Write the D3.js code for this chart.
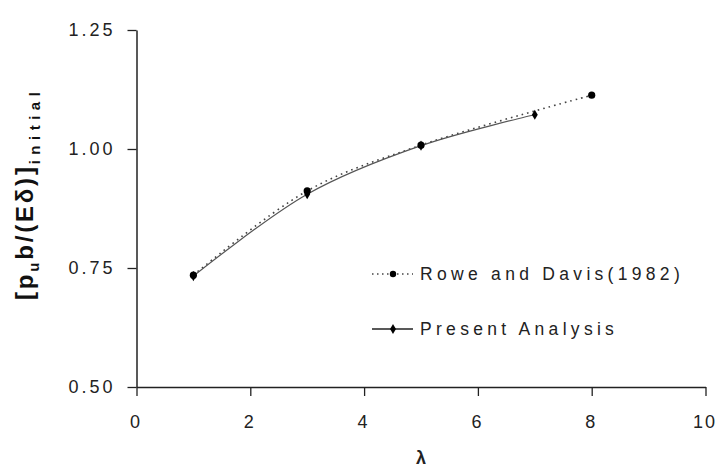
<!DOCTYPE html>
<html>
<head>
<meta charset="utf-8">
<script src="https://cdn.jsdelivr.net/npm/d3@7"></script>
<style>
  body { margin: 0; background: #fff; }
  svg { display: block; }
  .tick text { font-family: Arial, "Liberation Sans", sans-serif; font-size: 18px; fill: #222; letter-spacing: 3px; }
  .legend text { font-family: Arial, "Liberation Sans", sans-serif; font-size: 17.5px; fill: #222; letter-spacing: 4.3px; }
</style>
</head>
<body>
<div id="chart"></div>
<script>
const width = 718, height = 468;
const margin = {top: 30, right: 12.5, bottom: 81, left: 136.5};

// data
const roweX = [1, 3, 5, 8];
const roweY = [0.735, 0.912, 1.008, 1.113];
const presentX = [1, 3, 5, 7];
const presentY = [0.733, 0.905, 1.007, 1.072];
const xTicks = [0, 2, 4, 6, 8, 10];
const yTicks = [0.50, 0.75, 1.00, 1.25];
const seriesNames = ["Rowe and Davis(1982)", "Present Analysis"];

const rowe = roweX.map((d, i) => ({x: d, y: roweY[i]}));
const present = presentX.map((d, i) => ({x: d, y: presentY[i]}));

const svg = d3.select("#chart")
  .append("svg")
    .attr("width", width)
    .attr("height", height)
    .style("background", "#fff");

const x = d3.scaleLinear()
  .domain([0, 10])
  .range([margin.left, width - margin.right]);

const y = d3.scaleLinear()
  .domain([0.5, 1.25])
  .range([height - margin.bottom, margin.top]);

// X axis
const xAxis = svg.append("g")
  .attr("transform", `translate(0, ${height - margin.bottom})`)
  .call(d3.axisBottom(x).tickValues(xTicks).tickSize(9).tickSizeOuter(0).tickPadding(19).tickFormat(d3.format("d")));

// Y axis
const yAxis = svg.append("g")
  .attr("transform", `translate(${margin.left}, 0)`)
  .call(d3.axisLeft(y).tickValues(yTicks).tickSize(9).tickSizeOuter(0).tickPadding(15).tickFormat(d3.format(".2f")));

[xAxis, yAxis].forEach(a => {
  a.select(".domain").attr("stroke", "#222").attr("stroke-width", 1.5);
  a.selectAll(".tick line").attr("stroke", "#222").attr("stroke-width", 1.3);
});
xAxis.selectAll(".tick text").style("letter-spacing", "2px").attr("dx", "-1px");
yAxis.selectAll(".tick text").attr("dx", "3px");

// lines
const line = d3.line()
  .x(d => x(d.x))
  .y(d => y(d.y))
  .curve(d3.curveCatmullRom.alpha(0.5));

svg.append("path")
  .datum(rowe)
  .attr("fill", "none")
  .attr("stroke", "#444")
  .attr("stroke-width", 1.6)
  .attr("stroke-dasharray", "1.6,4")
  .attr("d", line);

svg.append("path")
  .datum(present)
  .attr("fill", "none")
  .attr("stroke", "#555")
  .attr("stroke-width", 1.2)
  .attr("d", line);

// markers
svg.append("g")
  .selectAll("circle")
  .data(rowe)
  .join("circle")
    .attr("cx", d => x(d.x))
    .attr("cy", d => y(d.y))
    .attr("r", 3.6)
    .attr("fill", "#000");

const diamond = d3.symbol().type(d3.symbolDiamond).size(30);
svg.append("g")
  .selectAll("path")
  .data(present)
  .join("path")
    .attr("transform", d => `translate(${x(d.x)}, ${y(d.y)})`)
    .attr("d", diamond)
    .attr("fill", "#000");

// legend
const legend = svg.append("g").attr("class", "legend");
const legendY = [274, 329];

legend.append("line")
  .attr("x1", 372).attr("x2", 413)
  .attr("y1", legendY[0]).attr("y2", legendY[0])
  .attr("stroke", "#444").attr("stroke-width", 1.4)
  .attr("stroke-dasharray", "1.5,3.5");
legend.append("circle")
  .attr("cx", 393).attr("cy", legendY[0]).attr("r", 3.2).attr("fill", "#000");

legend.append("line")
  .attr("x1", 372).attr("x2", 413)
  .attr("y1", legendY[1]).attr("y2", legendY[1])
  .attr("stroke", "#222").attr("stroke-width", 1.3);
legend.append("path")
  .attr("transform", `translate(393, ${legendY[1]})`)
  .attr("d", diamond)
  .attr("fill", "#000");

legend.selectAll("text")
  .data(seriesNames)
  .join("text")
    .attr("x", 420)
    .attr("y", (d, i) => legendY[i])
    .attr("dy", "0.35em")
    .text(d => d);

// X axis label
svg.append("text")
  .attr("x", (margin.left + width - margin.right) / 2)
  .attr("y", 464)
  .attr("text-anchor", "middle")
  .style("font-family", "Arial, 'Liberation Sans', sans-serif")
  .style("font-size", "18px")
  .style("font-weight", "bold")
  .style("fill", "#222")
  .text("λ");

// Y axis label
const ylab = svg.append("text")
  .attr("transform", "rotate(-90)")
  .attr("x", -300)
  .attr("y", 33)
  .style("font-family", "Arial, 'Liberation Sans', sans-serif")
  .style("font-weight", "bold")
  .style("font-size", "24px")
  .style("letter-spacing", "2.8px")
  .style("fill", "#111");
ylab.append("tspan").text("[p");
ylab.append("tspan").attr("dy", 6).style("font-size", "15px").text("u");
ylab.append("tspan").attr("dy", -6).text("b/(Eδ)]");
ylab.append("tspan").attr("dy", 7).style("font-size", "15px").style("letter-spacing", "5.5px").text("initial");
</script>
</body>
</html>
